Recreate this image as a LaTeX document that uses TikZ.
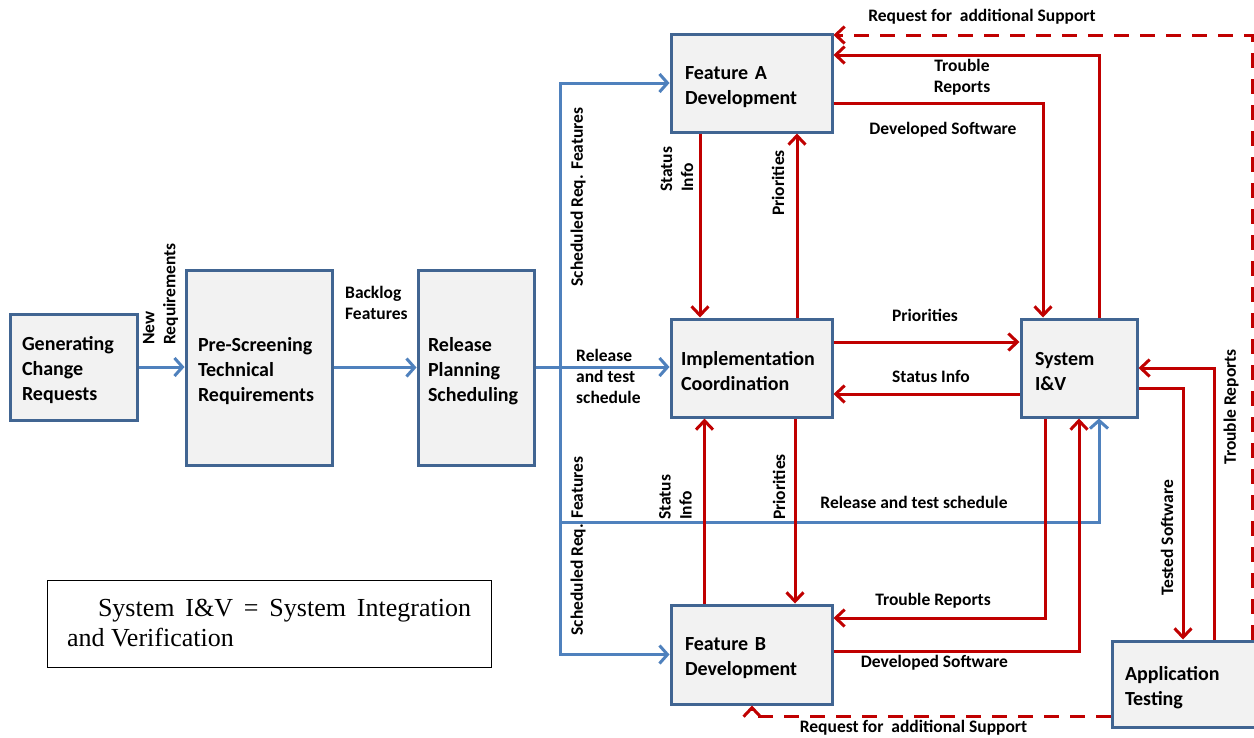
\documentclass[tikz,border=0pt]{standalone}
\usepackage{fontspec}
\setmainfont{Carlito}
\newfontfamily\timesf{Liberation Serif}
\usetikzlibrary{arrows.meta,calc}
\definecolor{boxc}{RGB}{65,101,146}
\definecolor{boxf}{RGB}{242,242,242}
\definecolor{bluec}{RGB}{79,129,189}
\definecolor{redc}{RGB}{192,0,0}
\tikzset{
  box/.style={draw=boxc, fill=boxf, line width=3pt, inner xsep=12pt, inner ysep=0pt,
    font=\bfseries\fontsize{20}{25}\selectfont, align=left,
    execute at begin node={\rule{0pt}{21pt}}},
  lbl/.style={font=\bfseries\fontsize{17.5}{21}\selectfont, inner sep=0pt},
  barrow/.style={draw=bluec, line width=3pt, -{Straight Barb[length=8pt,width=18pt]}},
  rarrow/.style={draw=redc, line width=3pt, -{Straight Barb[length=9pt,width=17pt]}},
  rdash/.style={rarrow, dash pattern=on 15pt off 11pt},
}
\begin{document}
\begin{tikzpicture}[x=1pt,y=-1pt]
\clip (0,0) rectangle (1254,737);
\fill[white] (0,0) rectangle (1254,737);
% boxes
\node[box, minimum width=127pt, minimum height=106pt, text width=103pt] (gcr) at (73.5,367) {Generating\\Change\\Requests};
\node[box, minimum width=146pt, minimum height=195pt, text width=122pt] (psr) at (259,367.5) {Pre-Screening\\Technical\\Requirements};
\node[box, minimum width=116pt, minimum height=195pt, text width=96pt, inner xsep=10pt] (rps) at (476,367.5) {Release\\Planning\\Scheduling};
\node[box, minimum width=161pt, minimum height=98pt, text width=133pt, inner xsep=14pt] (fa) at (751.5,83) {Feature A\\Development};
\node[box, minimum width=161pt, minimum height=98pt, text width=141pt, inner xsep=10pt] (ic) at (751.5,368) {Implementation\\Coordination};
\node[box, minimum width=161pt, minimum height=99pt, text width=133pt, inner xsep=14pt] (fb) at (751.5,654.5) {Feature B\\Development};
\node[box, minimum width=116pt, minimum height=98pt, text width=88pt, inner xsep=14pt] (sys) at (1079,368) {System\\I\&V};
\node[box, minimum width=150pt, minimum height=86pt, text width=124pt, inner xsep=13pt] (at) at (1187,684) {Application\\Testing};
% legend
\node[draw=black, line width=1pt, minimum width=444pt, minimum height=87pt, text width=404pt, inner xsep=20pt, inner ysep=0pt,
  align=justify, font=\timesf\fontsize{26}{30}\selectfont] (leg) at (269,623.5)
  {\hspace*{31pt}System I\&V = System Integration and Verification};
% helper coordinates
\coordinate (xA1) at (700,0);
\coordinate (xA2) at (797,0);
\coordinate (xB1) at (704.5,0);
\coordinate (xB2) at (795,0);
\coordinate (xDS) at (1043,0);
\coordinate (xTR) at (1099,0);
\coordinate (xTRb) at (1045,0);
\coordinate (xDSb) at (1079,0);
\coordinate (xTS) at (1183,0);
\coordinate (xTR2) at (1214,0);
\coordinate (xD) at (1252,0);
\coordinate (xDb) at (752,0);
\coordinate (yTop) at (0,35);
\coordinate (yTR) at (0,55);
\coordinate (yDS) at (0,103);
\coordinate (yP) at (0,342);
\coordinate (ySI) at (0,394);
\coordinate (yTRb) at (0,618);
\coordinate (yDSb) at (0,651);
\coordinate (yTS) at (0,388);
\coordinate (yTR2) at (0,368);
\coordinate (yDb) at (0,716);
\coordinate (j) at (560,367);
\coordinate (rts) at (1099,522);
% blue connectors
\draw[barrow] (gcr.east) -- (gcr.east -| psr.west);
\draw[barrow] (psr.east) -- (psr.east -| rps.west);
\draw[barrow] (rps.east |- j) -- (ic.west |- j);
\draw[barrow] (j) |- (fa.west);
\draw[barrow] (j) |- (fb.west);
\draw[barrow] (j) |- (rts) -- (rts |- sys.south);
% red connectors
\draw[rarrow] (fa.south -| xA1) -- (ic.north -| xA1);
\draw[rarrow] (ic.north -| xA2) -- (fa.south -| xA2);
\draw[rarrow] (fb.north -| xB1) -- (ic.south -| xB1);
\draw[rarrow] (ic.south -| xB2) -- (fb.north -| xB2);
\draw[rarrow] (ic.east |- yP) -- (sys.west |- yP);
\draw[rarrow] (sys.west |- ySI) -- (ic.east |- ySI);
\draw[rarrow] (fa.east |- yDS) -| (sys.north -| xDS);
\draw[rarrow] (sys.north -| xTR) |- (fa.east |- yTR);
\draw[rarrow] (sys.south -| xTRb) |- (fb.east |- yTRb);
\draw[rarrow] (fb.east |- yDSb) -| (sys.south -| xDSb);
\draw[rarrow] (sys.east |- yTS) -| (at.north -| xTS);
\draw[rarrow] (at.north -| xTR2) |- (sys.east |- yTR2);
\draw[rdash] (at.north -| xD) |- (fa.east |- yTop);
\draw[rdash] (at.west |- yDb) -| (fb.south -| xDb);
% labels
\node[lbl, rotate=90, anchor=west, align=left] (l1) at (160.5,345) {New\\Requirements};
\node[lbl, anchor=west, align=left] (l2) at (345,302.5) {Backlog\\Features};
\node[lbl, rotate=90] (l3) at (578,197) {Scheduled Req. Features};
\node[lbl, rotate=90] (l4) at (578,546) {Scheduled Req. Features};
\node[lbl, rotate=90, anchor=west, align=left] (l5) at (677,192) {Status\\Info};
\node[lbl, rotate=90] (l6) at (778,183) {Priorities};
\node[lbl, rotate=90, anchor=west, align=left] (l7) at (675.5,520) {Status\\Info};
\node[lbl, rotate=90] (l8) at (779,487) {Priorities};
\node[lbl, anchor=west, align=left] (l9) at (576,376) {Release\\and test\\schedule};
\node[lbl, align=center] (l10) at (962,77.5) {Trouble\\Reports};
\node[lbl] (l11) at (943,130) {Developed Software};
\node[lbl] (l12) at (982,17) {Request for\ \ additional Support};
\node[lbl] (l13) at (925,315) {Priorities};
\node[lbl] (l14) at (931,376) {Status Info};
\node[lbl] (l15) at (914,502) {Release and test schedule};
\node[lbl] (l16) at (933,601) {Trouble Reports};
\node[lbl] (l17) at (934.5,663) {Developed Software};
\node[lbl] (l18) at (913.5,728) {Request for\ \ additional Support};
\node[lbl, rotate=90] (l19) at (1167,538) {Tested Software};
\node[lbl, rotate=90] (l20) at (1231,407) {Trouble Reports};
\end{tikzpicture}
\end{document}
